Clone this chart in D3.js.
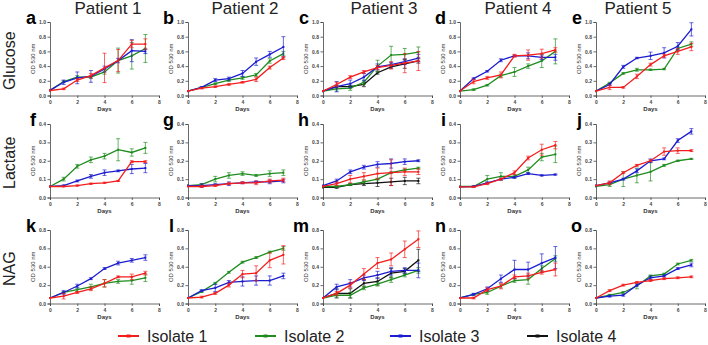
<!DOCTYPE html>
<html>
<head>
<meta charset="utf-8">
<script src="https://cdn.jsdelivr.net/npm/d3@7"></script>
<style>
  body { margin: 0; background: #fff; }
  svg { display: block; font-family: "Liberation Sans", Arial, sans-serif; }
</style>
</head>
<body>
<script>
// Datos del gráfico
const DAYS = [0, 1, 2, 3, 4, 5, 6, 7];
const X_TICKS = [0, 2, 4, 6, 8];
const PATIENTS = ["Patient 1", "Patient 2", "Patient 3", "Patient 4", "Patient 5"];
const SUBSTRATES = ["Glucose", "Lactate", "NAG"];
const ISOLATES = ["Isolate 1", "Isolate 2", "Isolate 3", "Isolate 4"];
const Y_TICKS = [
  [0, 0.2, 0.4, 0.6, 0.8, 1.0],
  [0, 0.1, 0.2, 0.3, 0.4],
  [0, 0.2, 0.4, 0.6, 0.8],
];
const LETTERS = ["a", "b", "c", "d", "e", "f", "g", "h", "i", "j", "k", "l", "m", "n", "o"];

// Medias por panel: [Isolate 1, Isolate 2, Isolate 3, Isolate 4] (null = sin datos)
const aMean = [[0.068, 0.09, 0.21, 0.27, 0.375, 0.475, 0.70, 0.70], [0.07, 0.19, 0.25, 0.25, 0.32, 0.475, 0.54, 0.64], [0.07, 0.18, 0.24, 0.26, 0.36, 0.475, 0.61, 0.60], null];
const aErr = [[0, 0.01, 0.02, 0.03, 0.2, 0.15, 0.05, 0.07], [0, 0.01, 0.02, 0.02, 0.03, 0.17, 0.18, 0.19], [0, 0.03, 0.08, 0.08, 0.04, 0.03, 0.15, 0.03], null];
const bMean = [[0.06, 0.10, 0.12, 0.15, 0.18, 0.22, 0.38, 0.51], [0.06, 0.11, 0.16, 0.21, 0.24, 0.28, 0.47, 0.57], [0.06, 0.11, 0.21, 0.23, 0.30, 0.46, 0.56, 0.66], null];
const bErr = [[0, 0.01, 0.01, 0.01, 0.01, 0.03, 0.02, 0.02], [0, 0.01, 0.01, 0.02, 0.02, 0.02, 0.03, 0.03], [0, 0.01, 0.02, 0.02, 0.04, 0.05, 0.04, 0.14], null];
const cMean = [[0.06, 0.15, 0.25, 0.32, 0.38, 0.41, 0.44, 0.47], [0.06, 0.09, 0.10, 0.18, 0.40, 0.55, 0.56, 0.59], [0.06, 0.12, 0.16, 0.25, 0.39, 0.42, 0.46, 0.51], [0.06, 0.12, 0.12, 0.15, 0.31, 0.39, 0.43, 0.47]];
const cErr = [[0, 0.03, 0.02, 0.02, 0.03, 0.05, 0.13, 0.13], [0, 0.03, 0.03, 0.03, 0.08, 0.12, 0.08, 0.07], [0, 0.07, 0.05, 0.05, 0.04, 0.03, 0.04, 0.05], [0, 0.02, 0.02, 0.03, 0.02, 0.02, 0.06, 0.03]];
const dMean = [[0.06, 0.19, 0.24, 0.28, 0.54, 0.55, 0.57, 0.62], [0.06, 0.08, 0.14, 0.27, 0.32, 0.40, 0.47, 0.60], [0.06, 0.23, 0.33, 0.48, 0.54, 0.54, 0.52, 0.52], null];
const dErr = [[0, 0.03, 0.02, 0.04, 0.02, 0.07, 0.06, 0.03], [0, 0.01, 0.01, 0.02, 0.06, 0.03, 0.09, 0.17], [0, 0.01, 0.01, 0.02, 0.01, 0.04, 0.03, 0.04], null];
const eMean = [[0.06, 0.11, 0.11, 0.26, 0.42, 0.54, 0.60, 0.66], [0.06, 0.17, 0.30, 0.35, 0.35, 0.36, 0.64, 0.70], [0.06, 0.15, 0.39, 0.51, 0.54, 0.58, 0.67, 0.90], null];
const eErr = [[0, 0.03, 0.01, 0.03, 0.02, 0.02, 0.04, 0.05], [0, 0.01, 0.01, 0.02, 0.01, 0.01, 0.02, 0.03], [0, 0.01, 0.02, 0.01, 0.05, 0.07, 0.05, 0.09], null];

const fMean = [[0.06, 0.06, 0.065, 0.075, 0.08, 0.09, 0.195, 0.195], [0.06, 0.10, 0.17, 0.205, 0.225, 0.26, 0.245, 0.27], [0.06, 0.065, 0.09, 0.115, 0.135, 0.145, 0.155, 0.16], null];
const fErr = [[0, 0, 0.003, 0.003, 0.003, 0.003, 0.005, 0.005], [0, 0.01, 0.01, 0.015, 0.015, 0.06, 0.02, 0.03], [0, 0.003, 0.005, 0.01, 0.015, 0.005, 0.025, 0.025], null];
const gMean = [[0.06, 0.06, 0.065, 0.075, 0.08, 0.08, 0.09, 0.095], [0.065, 0.07, 0.10, 0.12, 0.13, 0.12, 0.13, 0.135], [0.065, 0.065, 0.07, 0.075, 0.08, 0.085, 0.085, 0.09], null];
const gErr = [[0, 0.005, 0.005, 0.005, 0.005, 0.01, 0.01, 0.01], [0, 0.005, 0.015, 0.015, 0.01, 0.005, 0.015, 0.015], [0, 0.01, 0.005, 0.01, 0.005, 0.005, 0.01, 0.01], null];
const hMean = [[0.06, 0.075, 0.10, 0.115, 0.13, 0.135, 0.14, 0.14], [0.06, 0.06, 0.07, 0.085, 0.10, 0.135, 0.15, 0.16], [0.065, 0.09, 0.14, 0.165, 0.18, 0.185, 0.195, 0.20], [0.055, 0.055, 0.07, 0.075, 0.08, 0.085, 0.09, 0.09]];
const hErr = [[0, 0.01, 0.02, 0.02, 0.03, 0.07, 0.02, 0.015], [0, 0.005, 0.005, 0.01, 0.005, 0.005, 0.005, 0.005], [0, 0.01, 0.01, 0.01, 0.015, 0.025, 0.015, 0.005], [0, 0.005, 0.005, 0.01, 0.02, 0.02, 0.02, 0.015]];
const iMean = [[0.058, 0.058, 0.075, 0.10, 0.135, 0.215, 0.26, 0.285], [0.06, 0.06, 0.10, 0.115, 0.115, 0.15, 0.22, 0.235], [0.058, 0.06, 0.08, 0.10, 0.11, 0.13, 0.12, 0.125], null];
const iErr = [[0, 0.003, 0.005, 0.005, 0.01, 0.01, 0.03, 0.02], [0, 0.003, 0.02, 0.02, 0.01, 0.015, 0.02, 0.045], [0, 0.003, 0.005, 0.005, 0.005, 0.005, 0.003, 0.003], null];
const jMean = [[0.065, 0.08, 0.135, 0.175, 0.20, 0.25, 0.255, 0.255], [0.06, 0.07, 0.10, 0.12, 0.14, 0.175, 0.20, 0.21], [0.065, 0.08, 0.10, 0.145, 0.20, 0.21, 0.31, 0.36], null];
const jErr = [[0, 0.01, 0.005, 0.005, 0.005, 0.02, 0.015, 0.005], [0, 0.01, 0.04, 0.04, 0.05, 0.005, 0.003, 0.003], [0, 0.005, 0.005, 0.01, 0.01, 0.005, 0.01, 0.015], null];

const kMean = [[0.06, 0.08, 0.12, 0.16, 0.22, 0.29, 0.29, 0.33], [0.06, 0.12, 0.15, 0.18, 0.22, 0.24, 0.25, 0.28], [0.06, 0.12, 0.19, 0.27, 0.38, 0.44, 0.47, 0.50], null];
const kErr = [[0, 0.03, 0.01, 0.02, 0.04, 0.01, 0.03, 0.02], [0, 0.01, 0.02, 0.03, 0.04, 0.02, 0.04, 0.04], [0, 0.02, 0.02, 0.01, 0.01, 0.02, 0.02, 0.03], null];
const lMean = [[0.06, 0.07, 0.11, 0.20, 0.32, 0.33, 0.47, 0.53], [0.06, 0.13, 0.22, 0.34, 0.45, 0.50, 0.56, 0.60], [0.06, 0.14, 0.17, 0.23, 0.24, 0.25, 0.25, 0.30], null];
const lErr = [[0, 0.01, 0.01, 0.02, 0.04, 0.08, 0.08, 0.1], [0, 0.01, 0.01, 0.01, 0.01, 0.01, 0.01, 0.02], [0, 0.01, 0.04, 0.02, 0.05, 0.05, 0.05, 0.03], null];
const mMean = [[0.06, 0.11, 0.20, 0.32, 0.44, 0.48, 0.59, 0.70], [0.06, 0.09, 0.09, 0.17, 0.21, 0.26, 0.31, 0.36], [0.06, 0.18, 0.22, 0.28, 0.31, 0.35, 0.36, 0.36], [0.06, 0.11, 0.11, 0.22, 0.24, 0.33, 0.35, 0.47]];
const mErr = [[0, 0.02, 0.03, 0.06, 0.06, 0.07, 0.09, 0.09], [0, 0.02, 0.03, 0.02, 0.02, 0.03, 0.02, 0.03], [0, 0.03, 0.04, 0.03, 0.04, 0.04, 0.03, 0.08], [0, 0.05, 0.05, 0.04, 0.04, 0.05, 0.03, 0.12]];
const nMean = [[0.06, 0.06, 0.15, 0.19, 0.29, 0.30, 0.34, 0.37], [0.06, 0.10, 0.12, 0.19, 0.25, 0.26, 0.38, 0.49], [0.06, 0.10, 0.16, 0.27, 0.37, 0.37, 0.44, 0.50], null];
const nErr = [[0, 0.01, 0.02, 0.03, 0.02, 0.03, 0.02, 0.07], [0, 0.01, 0.02, 0.02, 0.02, 0.05, 0.03, 0.03], [0, 0.01, 0.02, 0.04, 0.1, 0.08, 0.1, 0.12], null];
const oMean = [[0.06, 0.14, 0.20, 0.23, 0.25, 0.27, 0.28, 0.29], [0.06, 0.09, 0.12, 0.19, 0.30, 0.32, 0.43, 0.47], [0.06, 0.08, 0.09, 0.20, 0.28, 0.30, 0.38, 0.42], null];
const oErr = [[0, 0.01, 0.01, 0.01, 0.01, 0.01, 0.01, 0.01], [0, 0.01, 0.01, 0.03, 0.01, 0.01, 0.01, 0.01], [0, 0.01, 0.01, 0.01, 0.02, 0.01, 0.01, 0.02], null];

const MEANS = [aMean, bMean, cMean, dMean, eMean, fMean, gMean, hMean, iMean, jMean, kMean, lMean, mMean, nMean, oMean];
const ERRS = [aErr, bErr, cErr, dErr, eErr, fErr, gErr, hErr, iErr, jErr, kErr, lErr, mErr, nErr, oErr];

// Estilo y disposición
const WIDTH = 708;
const HEIGHT = 345;
const COLORS = ["#f41d1d", "#1e8c1e", "#1c1cd0", "#111111"];
const COL_X = [50, 188, 323, 460, 596];
const ROW_Y = [22, 124, 230];
const PANEL_W = 109;
const PANEL_H = 73.5;
const TITLE_X = [108, 245, 384, 518, 638];
const LEGEND_X = [118, 255, 390, 527];
const DRAW_ORDER = [3, 1, 2, 0];

const svg = d3.select("body")
  .append("svg")
  .attr("width", WIDTH)
  .attr("height", HEIGHT);

// Títulos de pacientes
svg.selectAll("text.patient")
  .data(PATIENTS)
  .join("text")
  .attr("class", "patient")
  .attr("x", (d, i) => TITLE_X[i])
  .attr("y", 14)
  .attr("text-anchor", "middle")
  .attr("font-size", 17)
  .attr("fill", "#222")
  .text(d => d);

// Etiquetas de sustrato (verticales)
svg.selectAll("text.substrate")
  .data(SUBSTRATES)
  .join("text")
  .attr("class", "substrate")
  .attr("transform", (d, i) => `translate(15, ${ROW_Y[i] + PANEL_H / 2 + 2}) rotate(-90)`)
  .attr("text-anchor", "middle")
  .attr("font-size", 16)
  .attr("fill", "#222")
  .text(d => d);

const xScale = d3.scaleLinear().domain([0, 8]).range([0, PANEL_W]);

MEANS.forEach((means, p) => {
  const row = Math.floor(p / 5);
  const col = p % 5;
  const ticks = Y_TICKS[row];
  const yScale = d3.scaleLinear().domain([0, ticks[ticks.length - 1]]).range([PANEL_H, 0]);

  const g = svg.append("g")
    .attr("transform", `translate(${COL_X[col]}, ${ROW_Y[row]})`);

  // Ejes
  const ejeX = g.append("g")
    .attr("transform", `translate(0, ${PANEL_H})`)
    .call(d3.axisBottom(xScale).tickValues(X_TICKS).tickSize(2.5).tickPadding(2).tickFormat(d3.format("d")));
  const ejeY = g.append("g")
    .call(d3.axisLeft(yScale).tickValues(ticks).tickSize(2.5).tickPadding(1.5).tickFormat(d3.format(".1f")));

  [ejeX, ejeY].forEach(eje => {
    eje.select(".domain").attr("stroke", "#444").attr("stroke-width", 0.8);
    eje.selectAll("line").attr("stroke", "#444").attr("stroke-width", 0.8);
    eje.selectAll("text")
      .attr("font-size", 5)
      .attr("font-weight", "bold")
      .attr("fill", "#444")
      .attr("font-family", "Liberation Sans, Arial, sans-serif");
  });

  // Etiquetas de ejes
  g.append("text")
    .attr("x", PANEL_W / 2)
    .attr("y", PANEL_H + 15)
    .attr("text-anchor", "middle")
    .attr("font-size", 6)
    .attr("font-weight", "bold")
    .attr("fill", "#333")
    .text("Days");

  g.append("text")
    .attr("transform", `translate(-15, ${PANEL_H / 2}) rotate(-90)`)
    .attr("text-anchor", "middle")
    .attr("font-size", 6)
    .attr("fill", "#333")
    .text("OD 530 nm");

  // Letra del panel
  g.append("text")
    .attr("x", -14)
    .attr("y", 2)
    .attr("text-anchor", "end")
    .attr("font-size", 18)
    .attr("font-weight", "bold")
    .attr("fill", "#000")
    .text(LETTERS[p]);

  // Series
  const line = d3.line()
    .x((d, i) => xScale(DAYS[i]))
    .y(d => yScale(d));

  DRAW_ORDER.forEach(s => {
    const serie = means[s];
    if (!serie) return;
    const err = ERRS[p][s];
    const color = COLORS[s];
    const puntos = serie.map((v, i) => ({ day: DAYS[i], v: v, e: err[i] }));

    const sg = g.append("g");

    // Barras de error
    const eb = sg.selectAll("g.err")
      .data(puntos.filter(d => d.e > 0))
      .join("g")
      .attr("stroke", color)
      .attr("stroke-opacity", 0.75)
      .attr("stroke-width", 0.9);
    eb.append("line")
      .attr("x1", d => xScale(d.day)).attr("x2", d => xScale(d.day))
      .attr("y1", d => yScale(d.v - d.e)).attr("y2", d => yScale(d.v + d.e));
    eb.append("line")
      .attr("x1", d => xScale(d.day) - 2).attr("x2", d => xScale(d.day) + 2)
      .attr("y1", d => yScale(d.v + d.e)).attr("y2", d => yScale(d.v + d.e));
    eb.append("line")
      .attr("x1", d => xScale(d.day) - 2).attr("x2", d => xScale(d.day) + 2)
      .attr("y1", d => yScale(d.v - d.e)).attr("y2", d => yScale(d.v - d.e));

    sg.append("path")
      .datum(serie)
      .attr("fill", "none")
      .attr("stroke", color)
      .attr("stroke-width", 1.3)
      .attr("d", line);

    // Marcadores
    sg.selectAll("rect")
      .data(puntos)
      .join("rect")
      .attr("x", d => xScale(d.day) - 1)
      .attr("y", d => yScale(d.v) - 1)
      .attr("width", 2)
      .attr("height", 2)
      .attr("fill", color);
  });
});

// Leyenda
const leyenda = svg.selectAll("g.legend")
  .data(ISOLATES)
  .join("g")
  .attr("class", "legend")
  .attr("transform", (d, i) => `translate(${LEGEND_X[i]}, 336)`);

leyenda.append("line")
  .attr("x1", 0).attr("x2", 21)
  .attr("stroke", (d, i) => COLORS[i])
  .attr("stroke-width", 2);
leyenda.append("rect")
  .attr("x", 8.5).attr("y", -1.5)
  .attr("width", 4).attr("height", 3)
  .attr("fill", (d, i) => COLORS[i]);
leyenda.append("text")
  .attr("x", 29)
  .attr("y", 5.5)
  .attr("font-size", 16)
  .attr("fill", "#222")
  .text(d => d);
</script>
</body>
</html>
